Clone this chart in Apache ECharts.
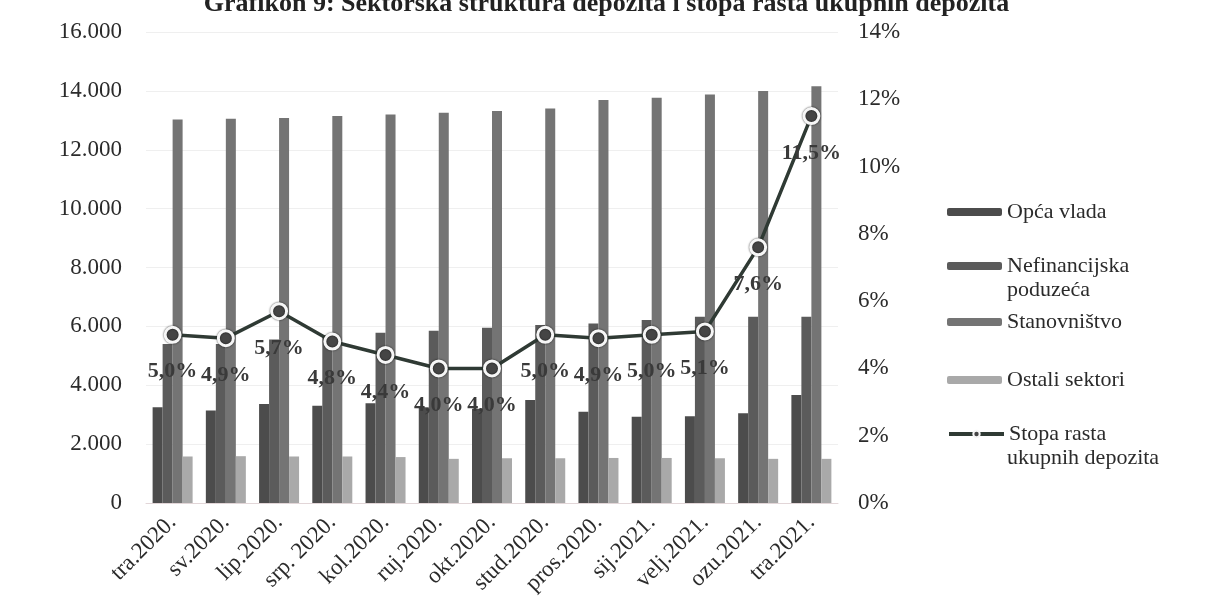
<!DOCTYPE html>
<html>
<head>
    <meta charset="utf-8">
    <script src="https://cdn.jsdelivr.net/npm/echarts@6/dist/echarts.min.js"></script>
    <style>
        *{
            margin:0;
            padding:0;
        }
        body{ background:#fff; }
    </style>
</head>
<body>
    <div id="main" style="width:1213px;height:609px;"></div>
    <script type="text/javascript">

    var categories = ['tra.2020.', 'sv.2020.', 'lip.2020.', 'srp. 2020.', 'kol.2020.', 'ruj.2020.', 'okt.2020.', 'stud.2020.', 'pros.2020.', 'sij.2021.', 'velj.2021.', 'ozu.2021.', 'tra.2021.'];
    var opcaVlada = [3250, 3140, 3360, 3300, 3390, 3250, 3200, 3500, 3100, 2930, 2950, 3050, 3670];
    var nefinancijska = [5400, 5400, 5550, 5700, 5780, 5850, 5950, 6050, 6100, 6220, 6330, 6330, 6330];
    var stanovnistvo = [13030, 13050, 13080, 13150, 13200, 13260, 13320, 13400, 13690, 13770, 13880, 14000, 14160];
    var ostali = [1580, 1590, 1580, 1580, 1560, 1500, 1520, 1520, 1530, 1530, 1520, 1500, 1500];
    var stopaRasta = [5.0, 4.9, 5.7, 4.8, 4.4, 4.0, 4.0, 5.0, 4.9, 5.0, 5.1, 7.6, 11.5];

    var serif = 'Liberation Serif';
    var txt = '#2b2b2b';

    var myChart = echarts.init(document.getElementById('main'));

    // one legend per item so the two-line entries keep their icon on the first line
    function legendAt(name, top, extra) {
        var l = {
            data: [name],
            orient: 'vertical',
            left: 947,
            top: top,
            padding: 0,
            itemWidth: 55,
            itemHeight: 8,
            selectedMode: false,
            lineStyle: { width: 4 },
            textStyle: { fontFamily: serif, fontSize: 22, color: txt, lineHeight: 24 }
        };
        if (extra) l.formatter = extra;
        return l;
    }

    function barSeries(name, data, color) {
        return {
            name: name,
            type: 'bar',
            barWidth: 10,
            barGap: '0%',
            itemStyle: { color: color },
            data: data
        };
    }

    myChart.setOption({
        backgroundColor: '#fff',
        animation: false,
        title: {
            text: 'Grafikon 9: Sektorska struktura depozita i stopa rasta ukupnih depozita',
            left: 'center',
            top: -14,
            textStyle: { fontFamily: serif, fontSize: 26, fontWeight: 'bold', color: '#222' }
        },
        legend: [
            legendAt('Opća vlada', 200),
            legendAt('Nefinancijska poduzeća', 254, function () { return 'Nefinancijska'; }),
            legendAt('Stanovništvo', 310),
            legendAt('Ostali sektori', 368),
            legendAt('Stopa rasta ukupnih depozita', 422, function () { return 'Stopa rasta'; })
        ],
        graphic: [
            { type: 'text', left: 1007, top: 279, style: { text: 'poduzeća', font: '22px "Liberation Serif"', fill: txt } },
            { type: 'text', left: 1007, top: 447, style: { text: 'ukupnih depozita', font: '22px "Liberation Serif"', fill: txt } }
        ],
        grid: {
            left: 146,
            right: 375,
            top: 32,
            bottom: 106
        },
        xAxis: {
            type: 'category',
            data: categories,
            axisTick: { show: false },
            axisLine: { lineStyle: { color: '#e2d6d8', width: 1 } },
            axisLabel: {
                interval: 0,
                rotate: 45,
                margin: 16,
                fontFamily: serif,
                fontSize: 23,
                color: txt
            }
        },
        yAxis: [
            {
                type: 'value',
                min: 0,
                max: 16000,
                interval: 2000,
                axisLine: { show: false },
                axisTick: { show: false },
                splitLine: { lineStyle: { color: '#efefef' } },
                axisLabel: {
                    margin: 24,
                    fontFamily: serif,
                    fontSize: 23,
                    color: txt,
                    formatter: function (v) {
                        return String(v).replace(/\B(?=(\d{3})+(?!\d))/g, '.');
                    }
                }
            },
            {
                type: 'value',
                min: 0,
                max: 14,
                interval: 2,
                axisLine: { show: false },
                axisTick: { show: false },
                splitLine: { show: false },
                axisLabel: {
                    margin: 20,
                    fontFamily: serif,
                    fontSize: 23,
                    color: txt,
                    formatter: '{value}%'
                }
            }
        ],
        series: [
            barSeries('Opća vlada', opcaVlada, '#4c4c4c'),
            barSeries('Nefinancijska poduzeća', nefinancijska, '#5b5b5b'),
            barSeries('Stanovništvo', stanovnistvo, '#747474'),
            barSeries('Ostali sektori', ostali, '#a9a9a9'),
            {
                name: 'Stopa rasta ukupnih depozita',
                type: 'line',
                yAxisIndex: 1,
                z: 10,
                symbol: 'circle',
                symbolSize: 15,
                lineStyle: { color: '#2f3a34', width: 3.5 },
                itemStyle: {
                    color: '#454545',
                    borderColor: '#f6f6f6',
                    borderWidth: 3,
                    shadowBlur: 2,
                    shadowColor: 'rgba(0,0,0,0.7)'
                },
                label: {
                    show: true,
                    position: 'bottom',
                    distance: 17,
                    fontFamily: serif,
                    fontSize: 22,
                    fontWeight: 'bold',
                    color: '#3a3a3a',
                    formatter: function (p) {
                        return p.value.toFixed(1).replace('.', ',') + '%';
                    }
                },
                data: stopaRasta
            }
        ]
    });
    </script>
</body>
</html>
